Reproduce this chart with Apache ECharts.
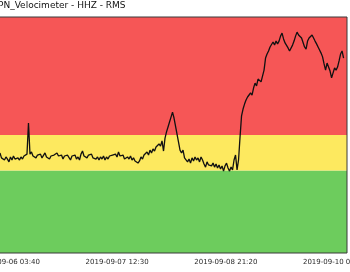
<!DOCTYPE html>
<html>
<head>
<meta charset="utf-8">
<script src="https://cdn.jsdelivr.net/npm/echarts@6/dist/echarts.min.js"></script>
<style>html,body{margin:0;padding:0;background:#fff;}#c{width:350px;height:272px;}</style>
</head>
<body>
<div id="c"></div>
<script>
// Title text
const titleText = "PN_Velocimeter - HHZ - RMS";
// Sampling: minutes relative to 2019-09-06 03:40 (UTC)
const baseTime = Date.UTC(2019, 8, 6, 3, 40);
const startOffsetMin = -154;
const stepMin = 27.2;
// Tick spacing in minutes (32h50m)
const tickIntervalMin = 1970;
// Threshold bands (RMS units): green / yellow / red
const bandLimits = [0, 35, 50, 100];
const bandColors = ["#6dcc5d", "#fde95f", "#f65656"];
// RMS values
const rms = [
42.4,40.3,41.1,39.4,40.7,39.8,38.6,40.7,39.4,41.1,
39.8,39.0,40.3,39.4,40.7,39.8,41.1,40.3,41.9,55.1,
41.9,42.8,41.1,41.9,40.3,41.5,40.7,41.9,40.3,41.1,
42.4,40.7,41.5,39.8,41.1,40.3,41.5,40.7,42.4,41.1,
40.3,41.5,39.8,41.1,40.3,41.5,40.7,39.4,41.1,40.3,
41.5,39.8,40.7,39.4,41.9,43.2,41.1,41.9,40.3,41.5,
40.7,41.9,40.3,41.1,39.8,40.7,39.4,40.7,39.8,41.1,
39.4,40.7,39.8,41.1,40.3,41.5,40.7,41.9,40.7,42.8,
41.1,40.3,41.5,39.8,39.0,40.7,39.8,41.1,39.4,40.3,
39.0,39.8,38.1,39.0,40.7,39.8,41.5,40.7,42.8,41.5,
43.6,42.4,44.1,43.2,44.9,44.1,46.2,45.3,47.5,43.2,
48.7,51.3,53.4,55.5,57.6,59.7,57.2,53.8,50.4,47.0,
43.6,42.4,43.6,40.3,41.1,38.6,39.8,38.1,40.3,39.0,
40.7,39.4,40.3,38.6,40.7,39.4,37.7,36.4,38.6,37.3,
38.1,36.9,38.1,36.4,37.7,36.0,37.3,35.6,36.9,34.7,
36.9,38.1,36.0,34.7,36.4,35.2,39.4,41.5,35.2,39.4,
49.2,58.1,61.0,63.1,64.8,66.1,65.3,67.8,66.9,69.9,
72.0,70.8,73.7,74.2,72.5,73.3,77.5,82.6,84.3,85.6,
87.3,88.1,89.4,88.1,89.8,88.6,89.8,91.9,93.2,90.7,
89.0,88.6,86.9,85.6,86.0,88.1,89.8,91.9,93.6,92.4,
91.9,91.1,90.7,87.3,86.4,89.8,91.1,91.9,92.4,91.1,
89.8,88.6,87.3,86.0,84.7,83.1,80.1,77.5,80.5,80.1,
77.1,74.2,76.3,78.4,77.5,78.8,81.4,84.3,85.6,82.6
];

const seriesData = rms.map((v, i) => [startOffsetMin + i * stepMin, v]);

function pad(n){ return (n < 10 ? "0" : "") + n; }
function fmt(v){
  const d = new Date(baseTime + v * 60000);
  return d.getUTCFullYear() + "-" + pad(d.getUTCMonth() + 1) + "-" + pad(d.getUTCDate()) +
    " " + pad(d.getUTCHours()) + ":" + pad(d.getUTCMinutes());
}

const bandAreas = [];
for (let i = 0; i < bandColors.length; i++) {
  bandAreas.push([
    { yAxis: bandLimits[i], itemStyle: { color: bandColors[i] } },
    { yAxis: bandLimits[i + 1] }
  ]);
}

const chart = echarts.init(document.getElementById("c"), null, { renderer: "canvas" });
chart.setOption({
  animation: false,
  title: {
    text: titleText,
    left: -2, top: 1, padding: 0,
    textStyle: { fontFamily: "DejaVu Sans", fontSize: 9, fontWeight: "normal", color: "#111" }
  },
  grid: {
    show: true, z: 10,
    left: -100.2, right: 3, top: 17, bottom: 19,
    outerBoundsMode: "none",
    containLabel: false,
    backgroundColor: "transparent",
    borderColor: "#3a3a3a", borderWidth: 1
  },
  xAxis: {
    type: "value",
    min: -tickIntervalMin, max: 6137, interval: tickIntervalMin,
    axisLine: { show: false }, axisTick: { show: false }, splitLine: { show: false },
    axisLabel: {
      showMinLabel: false, showMaxLabel: false,
      hideOverlap: false,
      margin: 6,
      fontFamily: "DejaVu Sans", fontSize: 7, color: "#2a2a2a",
      formatter: fmt
    }
  },
  yAxis: {
    type: "value", min: bandLimits[0], max: bandLimits[bandLimits.length - 1],
    show: false
  },
  series: [{
    type: "line",
    data: seriesData,
    symbol: "none",
    lineStyle: { color: "#111", width: 1.3 },
    z: 5,
    markArea: { silent: true, data: bandAreas }
  }]
});
</script>
</body>
</html>
